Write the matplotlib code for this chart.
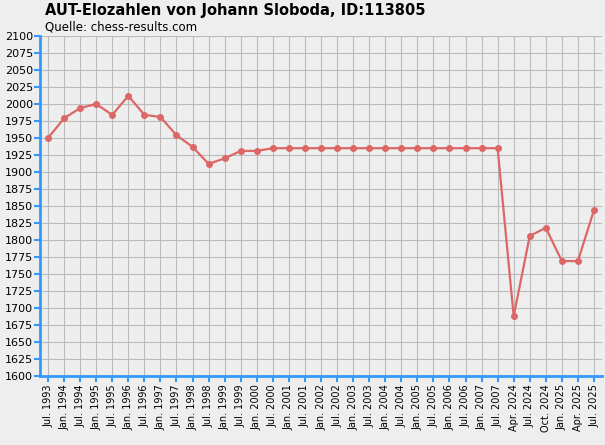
import matplotlib
matplotlib.use("Agg")
import matplotlib.pyplot as plt

labels = ["Jul. 1993","Jan. 1994","Jul. 1994","Jan. 1995","Jul. 1995","Jan. 1996","Jul. 1996",
"Jan. 1997","Jul. 1997","Jan. 1998","Jul. 1998","Jan. 1999","Jul. 1999","Jan. 2000","Jul. 2000",
"Jan. 2001","Jul. 2001","Jan. 2002","Jul. 2002","Jan. 2003","Jul. 2003","Jan. 2004","Jul. 2004",
"Jan. 2005","Jul. 2005","Jan. 2006","Jul. 2006","Jan. 2007","Jul. 2007","Apr. 2024","Jul. 2024",
"Oct. 2024","Jan. 2025","Apr. 2025","Jul. 2025"]
elo = [1950,1979,1994,2000,1984,2012,1984,1981,1954,1937,1912,1920,1931,1931,1935,
1935,1935,1935,1935,1935,1935,1935,1935,1935,1935,1935,1935,1935,1935,
1688,1806,1818,1769,1769,1844]

fig = plt.figure(figsize=(6.05,4.45), dpi=100, facecolor="#eeeeee")
ax = fig.add_axes([40/605, 1-376/445, 562/605, 340/445], facecolor="#eeeeee")
x = list(range(len(elo)))
ax.plot(x, elo, color="#dd6666", lw=1.6, marker="o", ms=4, zorder=3)
ax.set_xlim(-0.5, len(elo)-0.5)
ax.set_ylim(1600, 2100)
ax.set_yticks(range(1600, 2101, 25))
ax.set_xticks(x)
ax.set_xticklabels(labels, rotation=90, fontsize=7)
ax.tick_params(axis="y", labelsize=8, colors="black", color="#3399ff", length=4, width=1.5, pad=1)
ax.tick_params(axis="x", color="#3399ff", length=4, width=1.5, pad=2)
ax.grid(True, color="#bbbbbb", lw=0.8)
for s in ["top","right"]:
    ax.spines[s].set_visible(False)
ax.spines["left"].set_color("#3399ff"); ax.spines["left"].set_linewidth(2)
ax.spines["bottom"].set_color("#3399ff"); ax.spines["bottom"].set_linewidth(2)
fig.text(45/605, 1-10/445, "AUT-Elozahlen von Johann Sloboda, ID:113805", fontsize=10.5, fontweight="bold", va="center")
fig.text(45/605, 1-27/445, "Quelle: chess-results.com", fontsize=8.5, va="center")
fig.savefig("out.png", dpi=100, facecolor=fig.get_facecolor())
